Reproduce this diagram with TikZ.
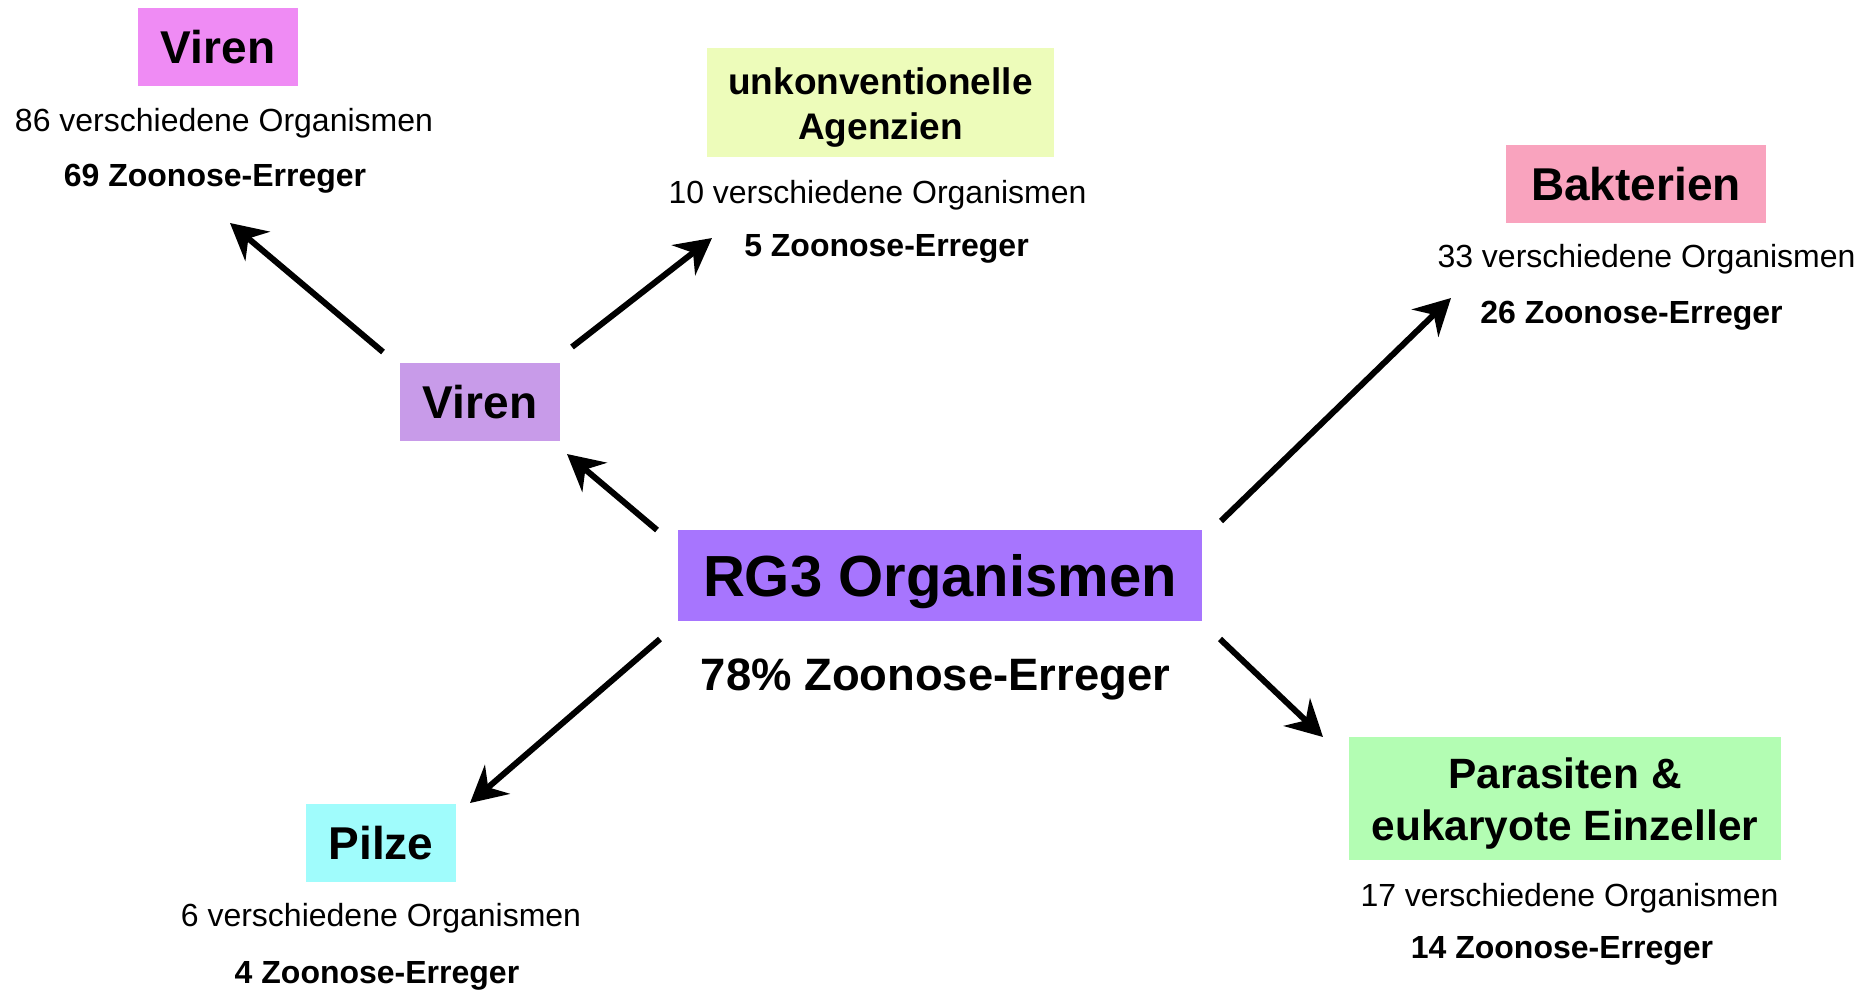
\documentclass[tikz,border=0pt]{standalone}
\usepackage{fontspec}
\setmainfont{Liberation Sans}
\usetikzlibrary{arrows.meta}
\definecolor{cVirenTop}{HTML}{EF8BF4}
\definecolor{cVirenMid}{HTML}{C89BE9}
\definecolor{cUnkonv}{HTML}{EDFCBA}
\definecolor{cBakt}{HTML}{F9A3BE}
\definecolor{cRG}{HTML}{A775FE}
\definecolor{cPilze}{HTML}{A0FCFC}
\definecolor{cPara}{HTML}{B3FDB3}
\begin{document}
\begin{tikzpicture}[x=0.5pt,y=-0.5pt,
  box/.style={inner sep=0pt, align=center},
  lab/.style={font=\fontsize{23}{27}\selectfont\bfseries, text height=16.5pt, text depth=0pt, minimum width=80pt, minimum height=39pt},
  small/.style={inner sep=0pt, anchor=base, font=\fontsize{16}{19}\selectfont},
  smallb/.style={inner sep=0pt, anchor=base, font=\fontsize{16}{19}\selectfont\bfseries},
  arr/.style={line width=3pt, -{Stealth[length=18pt,width=19pt,inset=6pt]}}]
\useasboundingbox (0,0) rectangle (1872,992);

% boxes
\node[box, lab, fill=cVirenTop] (virenTop) at (218,47) {Viren};
\node[box, lab, fill=cVirenMid] (virenMid) at (480,402) {Viren};
\node[box, fill=cUnkonv, minimum width=173.5pt, minimum height=54.5pt,
      font=\fontsize{18.5}{22.5}\selectfont\bfseries] (unkonv) at (880.5,102.5) {\rule{0pt}{18.5pt}unkonventionelle\\Agenzien};
\node[box, lab, fill=cBakt, minimum width=130pt] (bakt) at (1636,184) {Bakterien};
\node[box, fill=cRG, minimum width=262pt, minimum height=45.5pt, text height=20.8pt, text depth=0pt,
      font=\fontsize{29}{34}\selectfont\bfseries] (rg3) at (940,575.5) {RG3 Organismen};
\node[box, lab, fill=cPilze, minimum width=75pt] (pilze) at (381,843) {Pilze};
\node[box, fill=cPara, minimum width=216pt, minimum height=61.5pt,
      font=\fontsize{21.2}{26}\selectfont\bfseries] (para) at (1565,798.5) {\rule{0pt}{20.5pt}Parasiten \&\\eukaryote Einzeller};

% texts
\node[small] (vtA) at (224,131) {86 verschiedene Organismen};
\node[smallb] (vtB) at (215,186) {69 Zoonose-Erreger};
\node[small] (unA) at (877.5,203) {10 verschiedene Organismen};
\node[smallb] (unB) at (886.5,256) {5 Zoonose-Erreger};
\node[small] (baA) at (1646.5,267) {33 verschiedene Organismen};
\node[smallb] (baB) at (1631.5,323) {26 Zoonose-Erreger};
\node[inner sep=0pt, anchor=base, font=\fontsize{22.7}{27}\selectfont\bfseries] (rgB) at (935.5,690) {78\% Zoonose-Erreger};
\node[small] (piA) at (381,926) {6 verschiedene Organismen};
\node[smallb] (piB) at (377,983) {4 Zoonose-Erreger};
\node[small] (paA) at (1569.5,906) {17 verschiedene Organismen};
\node[smallb] (paB) at (1562,958) {14 Zoonose-Erreger};

% arrow end points
\coordinate (a1s) at (383,352);  \coordinate (a1e) at (230,223);
\coordinate (a2s) at (572,347);  \coordinate (a2e) at (712,238);
\coordinate (a3s) at (657,530);  \coordinate (a3e) at (567,454);
\coordinate (a4s) at (1221,521); \coordinate (a4e) at (1451,298);
\coordinate (a5s) at (660,639);  \coordinate (a5e) at (470,803);
\coordinate (a6s) at (1220,639); \coordinate (a6e) at (1323,737);

\draw[arr] (a1s) -- (a1e);
\draw[arr] (a2s) -- (a2e);
\draw[arr] (a3s) -- (a3e);
\draw[arr] (a4s) -- (a4e);
\draw[arr] (a5s) -- (a5e);
\draw[arr] (a6s) -- (a6e);
\end{tikzpicture}
\end{document}
